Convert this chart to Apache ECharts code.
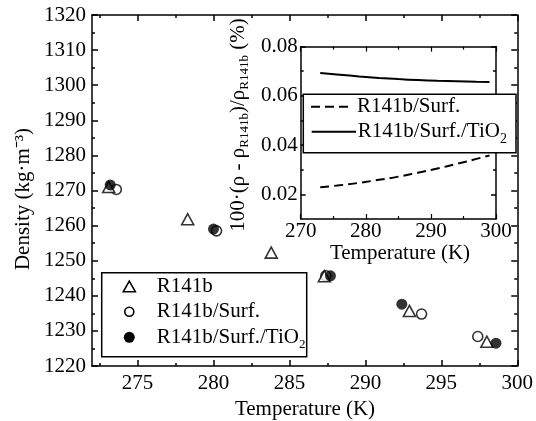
<!DOCTYPE html>
<html>
<head>
<meta charset="utf-8">
<script src="https://cdn.jsdelivr.net/npm/echarts@6/dist/echarts.min.js"></script>
<style>html,body{margin:0;padding:0;background:#fff}#c{width:536px;height:421px}</style>
</head>
<body>
<div id="c"></div>
<script>
// ---- data ----
const tempR141b = [273.1, 278.3, 283.8, 287.3, 292.9, 298.0];
const rhoR141b  = [1271.0, 1261.8, 1252.3, 1245.6, 1235.7, 1226.9];
const tempSurf  = [273.6, 280.2, 287.4, 293.7, 297.4];
const rhoSurf   = [1270.3, 1258.5, 1245.7, 1234.8, 1228.4];
const tempTiO2  = [273.2, 280.0, 287.7, 292.4, 298.6];
const rhoTiO2   = [1271.6, 1259.0, 1245.7, 1237.6, 1226.5];

const insetTemp = [273, 276, 279, 282, 285, 288, 291, 294, 297, 299];
const devSurf   = [0.0229, 0.0237, 0.0247, 0.0259, 0.0272, 0.0288, 0.0305, 0.0324, 0.0344, 0.0358];
const devTiO2   = [0.0693, 0.0686, 0.0679, 0.0673, 0.0668, 0.0664, 0.0661, 0.0659, 0.0657, 0.0656];

const mainXTicks  = [275, 280, 285, 290, 295, 300];
const mainXMinor  = [272.5, 277.5, 282.5, 287.5, 292.5, 297.5];
const insetYTicks = [0.02, 0.04, 0.06, 0.08];
const insetYMinor = [0.03, 0.05, 0.07];

const FONT = 'Liberation Serif';
const pairs = (xs, ys) => xs.map((x, i) => [x, ys[i]]);

const chart = echarts.init(document.getElementById('c'), null, {renderer: 'canvas'});
const line = {show: true, lineStyle: {color: '#000', width: 1.5}};
const noLine = {show: false};
const lbl = {color: '#000', fontFamily: FONT, fontSize: 21};

function xAx(grid, pos, min, max, opt) {
  return Object.assign({type: 'value', gridIndex: grid, position: pos, min: min, max: max,
    splitLine: {show: false}, axisLine: line}, opt);
}
function yAx(grid, pos, min, max, opt) {
  return Object.assign({type: 'value', gridIndex: grid, position: pos, min: min, max: max,
    splitLine: {show: false}, axisLine: line}, opt);
}
const tk = (len, vals) => ({show: true, inside: true, length: len, lineStyle: {color: '#000', width: 1.5}, customValues: vals});
const plain = v => String(v);

const option = {
  animation: false,
  backgroundColor: '#fff',
  grid: [
    {left: 92, top: 15, right: 18, bottom: 55},
    {left: 300.7, top: 46.6, right: 40, bottom: 202}
  ],
  xAxis: [
    xAx(0, 'bottom', 272, 300, {axisTick: tk(6, mainXTicks), axisLabel: Object.assign({customValues: mainXTicks, margin: 7, formatter: plain}, lbl)}),
    xAx(0, 'bottom', 272, 300, {axisLine: noLine, axisTick: tk(3, mainXMinor), axisLabel: {show: false}}),
    xAx(0, 'top', 272, 300, {axisTick: tk(6, mainXTicks), axisLabel: {show: false}}),
    xAx(0, 'top', 272, 300, {axisLine: noLine, axisTick: tk(3, mainXMinor), axisLabel: {show: false}}),
    xAx(1, 'bottom', 270, 300, {interval: 10, axisTick: {show: true, inside: true, length: 5, lineStyle: {color: '#000', width: 1.2}},
      minorTick: {show: true, splitNumber: 2, length: 3, lineStyle: {color: '#000', width: 1.2}},
      axisLabel: Object.assign({margin: 2, formatter: plain}, lbl)}),
    xAx(1, 'top', 270, 300, {interval: 10, axisTick: {show: true, inside: true, length: 5, lineStyle: {color: '#000', width: 1.2}},
      minorTick: {show: true, splitNumber: 2, length: 3, lineStyle: {color: '#000', width: 1.2}},
      axisLabel: {show: false}})
  ],
  yAxis: [
    yAx(0, 'left', 1220, 1320, {interval: 10, axisTick: {show: true, inside: true, length: 6, lineStyle: {color: '#000', width: 1.5}},
      minorTick: {show: true, splitNumber: 2, length: 3, lineStyle: {color: '#000', width: 1.5}},
      axisLabel: Object.assign({margin: 6, formatter: plain}, lbl)}),
    yAx(0, 'right', 1220, 1320, {interval: 10, axisTick: {show: true, inside: true, length: 6, lineStyle: {color: '#000', width: 1.5}},
      minorTick: {show: true, splitNumber: 2, length: 3, lineStyle: {color: '#000', width: 1.5}},
      axisLabel: {show: false}}),
    yAx(1, 'left', 0.01, 0.08, {axisTick: tk(5, insetYTicks),
      axisLabel: Object.assign({customValues: insetYTicks, margin: 3, formatter: v => v.toFixed(2)}, lbl)}),
    yAx(1, 'left', 0.01, 0.08, {axisLine: noLine, axisTick: tk(3, insetYMinor), axisLabel: {show: false}}),
    yAx(1, 'right', 0.01, 0.08, {axisTick: tk(5, insetYTicks), axisLabel: {show: false}}),
    yAx(1, 'right', 0.01, 0.08, {axisLine: noLine, axisTick: tk(3, insetYMinor), axisLabel: {show: false}})
  ],
  series: [
    {name: 'R141b/Surf.', type: 'scatter', xAxisIndex: 0, yAxisIndex: 0, data: pairs(tempSurf, rhoSurf),
     symbol: 'circle', symbolSize: 10, itemStyle: {color: '#fff', borderColor: '#000', borderWidth: 1.6}, z: 3},
    {name: 'R141b', type: 'scatter', xAxisIndex: 0, yAxisIndex: 0, data: pairs(tempR141b, rhoR141b),
     symbol: 'triangle', symbolSize: [12, 11], itemStyle: {color: '#fff', borderColor: '#000', borderWidth: 1.6}, z: 4},
    {name: 'R141b/Surf./TiO2', type: 'scatter', xAxisIndex: 0, yAxisIndex: 0, data: pairs(tempTiO2, rhoTiO2),
     symbol: 'circle', symbolSize: 11, itemStyle: {color: '#000'}, z: 5},
    {name: 'dev Surf', type: 'line', xAxisIndex: 4, yAxisIndex: 2, data: pairs(insetTemp, devSurf),
     showSymbol: false, smooth: true, lineStyle: {color: '#000', width: 2, type: [9, 5]}},
    {name: 'dev TiO2', type: 'line', xAxisIndex: 4, yAxisIndex: 2, data: pairs(insetTemp, devTiO2),
     showSymbol: false, smooth: true, lineStyle: {color: '#000', width: 2}}
  ],
  graphic: [
    // main legend
    {type: 'rect', z: 100, shape: {x: 101.7, y: 272.7, width: 205, height: 84}, style: {fill: '#fff', stroke: '#000', lineWidth: 1.5}},
    {type: 'polygon', z: 101, shape: {points: [[123.3, 291.7], [135.3, 291.7], [129.3, 281.2]]}, style: {fill: '#fff', stroke: '#000', lineWidth: 1.6}},
    {type: 'circle', z: 101, shape: {cx: 129.3, cy: 311.7, r: 4.5}, style: {fill: '#fff', stroke: '#000', lineWidth: 1.6}},
    {type: 'circle', z: 101, shape: {cx: 129.3, cy: 337.3, r: 5.5}, style: {fill: '#000'}},
    {type: 'text', z: 101, x: 156.7, y: 286.7, style: {text: 'R141b', fontFamily: FONT, fontSize: 21, fill: '#000', verticalAlign: 'middle'}},
    {type: 'text', z: 101, x: 156.7, y: 311.7, style: {text: 'R141b/Surf.', fontFamily: FONT, fontSize: 21, fill: '#000', verticalAlign: 'middle'}},
    {type: 'text', z: 101, x: 156.7, y: 337.3, style: {text: '{a|R141b/Surf./TiO}{s|2}', verticalAlign: 'middle', fill: '#000',
      rich: {a: {fontFamily: FONT, fontSize: 21, verticalAlign: 'middle'}, s: {fontFamily: FONT, fontSize: 13, verticalAlign: 'middle', padding: [14, 0, 0, 0]}}}},
    // inset legend
    {type: 'rect', z: 100, shape: {x: 303.3, y: 94.3, width: 212.7, height: 58.4}, style: {fill: '#fff', stroke: '#000', lineWidth: 1.5}},
    {type: 'line', z: 101, shape: {x1: 311, y1: 106.7, x2: 349, y2: 106.7}, style: {stroke: '#000', lineWidth: 2, lineDash: [9, 5]}},
    {type: 'line', z: 101, shape: {x1: 311.7, y1: 131.7, x2: 356, y2: 131.7}, style: {stroke: '#000', lineWidth: 2}},
    {type: 'text', z: 101, x: 357, y: 106.7, style: {text: 'R141b/Surf.', fontFamily: FONT, fontSize: 21, fill: '#000', verticalAlign: 'middle'}},
    {type: 'text', z: 101, x: 357.7, y: 131.7, style: {text: '{a|R141b/Surf./TiO}{s|2}', verticalAlign: 'middle', fill: '#000',
      rich: {a: {fontFamily: FONT, fontSize: 21, verticalAlign: 'middle'}, s: {fontFamily: FONT, fontSize: 14, verticalAlign: 'middle', padding: [16, 0, 0, 0]}}}},
    // axis titles
    {type: 'text', z: 101, x: 305, y: 409, style: {text: 'Temperature (K)', fontFamily: FONT, fontSize: 21, fill: '#000', align: 'center', verticalAlign: 'middle'}},
    {type: 'text', z: 101, x: 400, y: 253, style: {text: 'Temperature (K)', fontFamily: FONT, fontSize: 21, fill: '#000', align: 'center', verticalAlign: 'middle'}},
    {type: 'text', z: 101, x: 23, y: 199, rotation: Math.PI / 2, style: {text: 'Density (kg·m⁻³)', fontFamily: FONT, fontSize: 21, fill: '#000', align: 'center', verticalAlign: 'middle'}},
    {type: 'text', z: 101, x: 238, y: 125, rotation: Math.PI / 2, style: {
      text: '{a|100·(ρ - ρ}{s|R141b}{a|)/ρ}{s|R141b}{a| (%)}', align: 'center', verticalAlign: 'middle', fill: '#000',
      rich: {a: {fontFamily: FONT, fontSize: 21, verticalAlign: 'middle'}, s: {fontFamily: FONT, fontSize: 13, verticalAlign: 'middle', padding: [14, 0, 0, 0]}}}}
  ]
};
chart.setOption(option);
</script>
</body>
</html>
